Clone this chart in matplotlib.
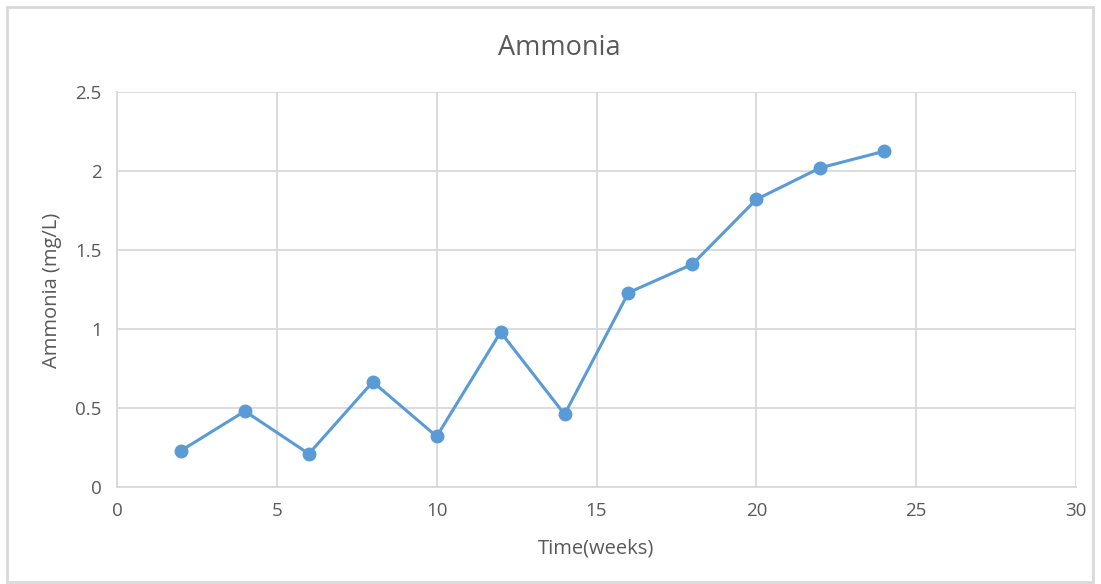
import matplotlib.pyplot as plt
from matplotlib.patches import Rectangle

weeks = [2, 4, 6, 8, 10, 12, 14, 16, 18, 20, 22, 24]
ammonia = [0.23, 0.48, 0.21, 0.665, 0.32, 0.98, 0.46, 1.23, 1.41, 1.82, 2.02, 2.125]

x_ticks = [0, 5, 10, 15, 20, 25, 30]
y_ticks = [0, 0.5, 1, 1.5, 2, 2.5]
y_labels = ["0", "0.5", "1", "1.5", "2", "2.5"]

plt.rcParams["font.family"] = ["Open Sans", "DejaVu Sans"]
text_color = "#595959"
grid_color = "#d9d9d9"
line_color = "#5b9bd5"

fig = plt.figure(figsize=(11.01, 5.84), dpi=100)
ax = fig.add_axes([0.1063, 0.1661, 0.8710, 0.6764])

ax.plot(weeks, ammonia, color=line_color, linewidth=2.2,
        marker="o", markersize=9, zorder=3)

ax.set_xlim(0, 30)
ax.set_ylim(0, 2.5)
ax.set_xticks(x_ticks)
ax.set_yticks(y_ticks)
ax.set_yticklabels(y_labels)
ax.grid(True, color=grid_color, linewidth=1.3)
ax.set_axisbelow(True)
for side in ["top", "right"]:
    ax.spines[side].set_visible(False)
for side in ["left", "bottom"]:
    ax.spines[side].set_color(grid_color)
    ax.spines[side].set_linewidth(1.3)
ax.tick_params(length=0, colors=text_color, labelsize=13.5, pad=11)

fig.text(0.508, 0.918, "Ammonia", ha="center", va="center",
         fontsize=19.5, color=text_color)
fig.text(0.541, 0.060, "Time(weeks)", ha="center", va="center",
         fontsize=14.5, color=text_color)
fig.text(0.047, 0.503, "Ammonia (mg/L)", ha="center", va="center",
         rotation=90, fontsize=14.5, color=text_color)

fig.patches.append(Rectangle((0.0065, 0.004), 0.986, 0.984, transform=fig.transFigure,
                             fill=False, edgecolor="#d9d9d9", linewidth=2))

fig.savefig("out.png", dpi=100)
